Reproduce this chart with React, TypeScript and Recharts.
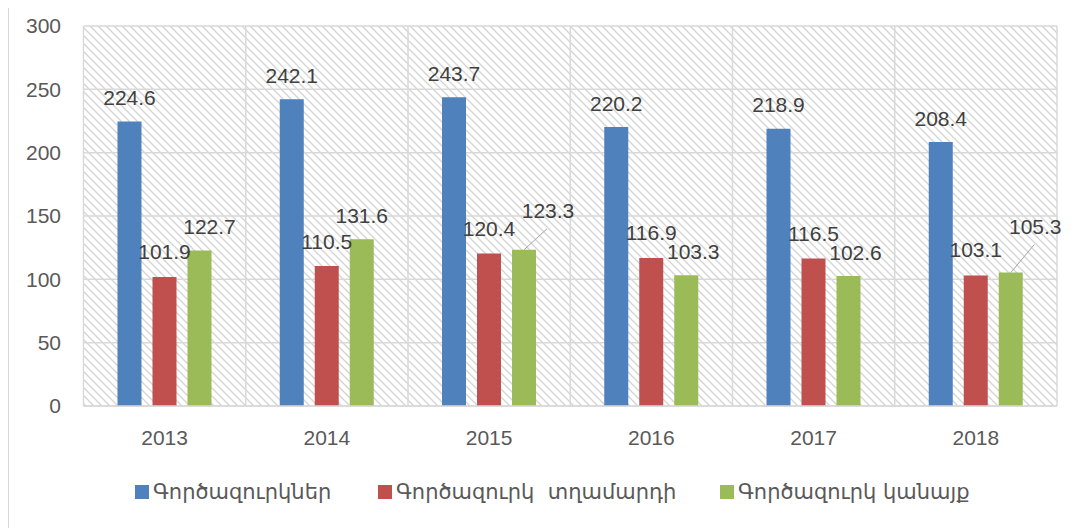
import React from 'react';
import { BarChart, Bar, XAxis, YAxis, CartesianGrid, LabelList } from 'recharts';

const years = ['2013', '2014', '2015', '2016', '2017', '2018'];
const unemployed = [224.6, 242.1, 243.7, 220.2, 218.9, 208.4];
const unemployedMen = [101.9, 110.5, 120.4, 116.9, 116.5, 103.1];
const unemployedWomen = [122.7, 131.6, 123.3, 103.3, 102.6, 105.3];
const seriesNames = ['Գործազուրկներ', 'Գործազուրկ  տղամարդի', 'Գործազուրկ կանայք'];
const yTicks = [0, 50, 100, 150, 200, 250, 300];

const data = years.map((year, i) => ({
  year,
  total: unemployed[i],
  men: unemployedMen[i],
  women: unemployedWomen[i],
}));

const COLORS = ['#4f81bd', '#c0504d', '#9bbb59'];
const KEYS = ['total', 'men', 'women'];
const FONT = "'Liberation Sans', Arial, sans-serif";
const LEGEND_FONT = "'DejaVu Sans', 'Liberation Sans', sans-serif";

// label placement tweaks (relative to bar top centre)
const LABEL_DX = [
  [0, 0, 0, 0, 0, 0],
  [0, 0, 0, 0, 0, 0],
  [10, 0, 24, 7, 7, 24.5],
];
const LABEL_RISE = [
  [24, 24, 24, 24, 24, 24],
  [25, 25, 25, 25, 25, 26],
  [24, 24, 39, 24, 24, 46],
];
const LEGEND_LEFT = [127, 370, 712];

const makeLabel = (s: number) => (props: any) => {
  const x = Number(props.x);
  const y = Number(props.y);
  const width = Number(props.width);
  const index = props.index as number;
  const cx = x + width / 2;
  const lx = cx + LABEL_DX[s][index];
  const cy = y - LABEL_RISE[s][index];
  const leader = LABEL_RISE[s][index] > 30;
  return (
    <g>
      {leader && (
        <line x1={cx} y1={y} x2={lx - 1} y2={cy + 18} stroke="#a6a6a6" strokeWidth={1} />
      )}
      <text x={lx} y={cy + 7.5} textAnchor="middle" fill="#404040" fontSize={21} fontFamily={FONT}>
        {props.value}
      </text>
    </g>
  );
};

const vGen = ({ offset }: any) => {
  const pts: number[] = [];
  for (let i = 0; i <= years.length; i++) pts.push(offset.left + (i * offset.width) / years.length);
  return pts;
};

export default function App() {
  return (
    <div style={{ position: 'relative', width: 1070, height: 520 }}>
      <div style={{ position: 'absolute', left: -1, top: -8, width: 2, height: 528, background: '#d9d9d9' }} />
      <BarChart
        width={1070}
        height={520}
        data={data}
        margin={{ top: 18, right: 21, bottom: 82, left: 0 }}
        barSize={24}
        barGap={11}
      >
        <defs>
          <pattern id="hatch" patternUnits="userSpaceOnUse" width={8} height={8}>
            <rect x={0} y={0} width={8} height={8} fill="#ffffff" />
            <path d="M-2,-2 L10,10 M-2,6 L2,10 M6,-2 L10,2" stroke="#d4d4d4" strokeWidth={1.3} />
          </pattern>
        </defs>
        <CartesianGrid
          stroke="#d9d9d9"
          strokeWidth={1.5}
          fill="url(#hatch)"
          fillOpacity={1}
          verticalCoordinatesGenerator={vGen}
        />
        <XAxis
          dataKey="year"
          axisLine={{ stroke: '#d9d9d9', strokeWidth: 1.5 }}
          tickLine={false}
          tickSize={0}
          tickMargin={24}
          height={40}
          tick={{ fill: '#595959', fontSize: 21, fontFamily: FONT }}
        />
        <YAxis
          domain={[0, 300]}
          ticks={yTicks}
          width={75.5}
          axisLine={false}
          tickLine={false}
          tickSize={0}
          tickMargin={22.5}
          tick={{ fill: '#595959', fontSize: 21, fontFamily: FONT }}
        />
        {KEYS.map((k, s) => (
          <Bar key={k} dataKey={k} name={seriesNames[s]} fill={COLORS[s]} isAnimationActive={false}>
            <LabelList dataKey={k} content={makeLabel(s)} />
          </Bar>
        ))}
      </BarChart>
      {seriesNames.map((name, s) => (
        <div
          key={name}
          style={{
            position: 'absolute',
            left: LEGEND_LEFT[s],
            top: 472,
            height: 24,
            display: 'flex',
            alignItems: 'center',
            whiteSpace: 'pre',
            fontFamily: LEGEND_FONT,
            fontSize: 21,
            color: '#595959',
          }}
        >
          <span style={{ display: 'inline-block', width: 14, height: 14, background: COLORS[s], marginRight: 4 }} />
          <span>{name}</span>
        </div>
      ))}
    </div>
  );
}
